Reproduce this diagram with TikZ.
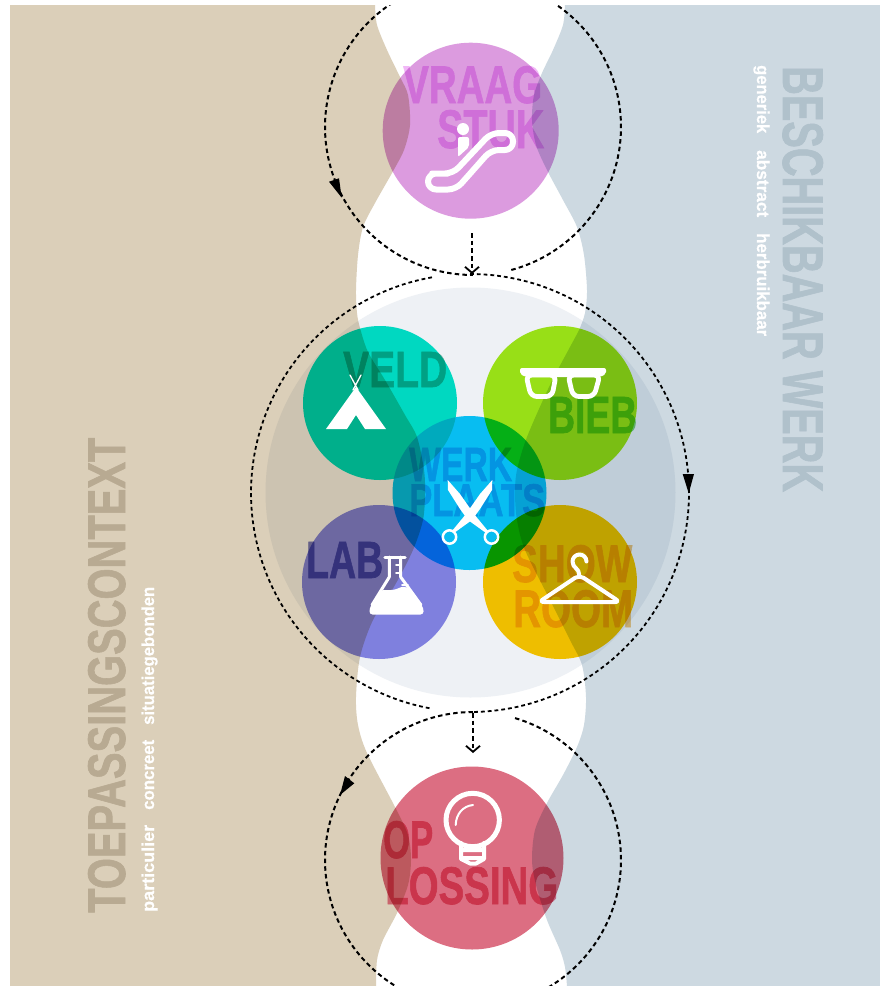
\documentclass[tikz,border=0pt]{standalone}
\usepackage{graphicx}
\usepackage{fontspec}
\setsansfont{Liberation Sans}[BoldFeatures={FakeBold=1.3}]
\newfontfamily\subfont{Liberation Sans}[BoldFeatures={FakeBold=0.6}]
\usetikzlibrary{arrows.meta}
\definecolor{tanbg}{HTML}{DBCFB9}
\definecolor{bluebg}{HTML}{CDD9E1}
\definecolor{bigc}{HTML}{EEF1F5}
\definecolor{cvraag}{HTML}{DC9BDF}
\definecolor{cveld}{HTML}{00E5C9}
\definecolor{cbieb}{HTML}{A3ED18}
\definecolor{cwerk}{HTML}{09C9FB}
\definecolor{clab}{HTML}{8988E8}
\definecolor{cshow}{HTML}{FFCA00}
\definecolor{copl}{HTML}{DC6E82}
\definecolor{tvraag}{HTML}{F1B8F7}
\definecolor{tveld}{HTML}{80BEAF}
\definecolor{tbieb}{HTML}{80D880}
\definecolor{twerk}{HTML}{80C8F0}
\definecolor{tlab}{HTML}{7D7DC3}
\definecolor{tshow}{HTML}{F5C880}
\definecolor{topl}{HTML}{EB7D96}
\definecolor{ttan}{HTML}{B8AA92}
\definecolor{tblue}{HTML}{B0C1CB}
\newcommand\fitt[3]{\resizebox{#1pt}{#2pt}{#3}}
\newcommand\subw[2]{\resizebox{#1pt}{12.5pt}{\subfont\bfseries\vphantom{l}#2}}
\tikzset{
  x=1pt,y=-1pt,
  bub/.style={circle,inner sep=0pt,draw=none,minimum size=#1},
  capt/.style={inner sep=0pt,anchor=base west,font=\sffamily\bfseries},
  subt/.style={capt,text=white},
  dashline/.style={draw=black,line width=2pt,dash pattern=on 4.5pt off 3.2pt},
  bigdash/.style={draw=black,line width=1.8pt,dash pattern=on 3.8pt off 3pt},
  head/.style={fill=black},
  ico/.style={draw=white,line join=round,line cap=round}
}
\begin{document}
\begin{tikzpicture}
\useasboundingbox (0,0) rectangle (880,986);
\fill[white] (0,0) rectangle (880,986);
% wavy background panels
\fill[tanbg] (10,5) -- plot[smooth,tension=0.5] coordinates {(375,5)(377,25)(387,50)(400,77)(408,95)(410,125)(404,150)(392,173)(375,203)(363,227)(358,255)(356,290)(357,313)(360,328)(368,352)(385,380)(405,415)(417,437)(424,470)(425,493)(423,520)(413,550)(395,585)(373,620)(360,657)(356,697)(358,725)(367,753)(395,807)(408,835)(411,860)(408,885)(397,913)(383,940)(377,960)(376,986)} -- (10,986) -- cycle;
\fill[bluebg] (880,5) -- plot[smooth,tension=0.5] coordinates {(565,5)(563,25)(553,50)(542,73)(534,95)(532,120)(536,145)(547,170)(563,200)(577,227)(584,255)(587,290)(585,313)(579,330)(570,347)(550,385)(527,437)(517,470)(515,493)(517,520)(525,550)(550,600)(570,640)(582,665)(586,697)(584,725)(577,747)(563,775)(547,803)(535,830)(532,860)(536,885)(547,920)(560,950)(565,967)(567,986)} -- (880,986) -- cycle;
\begin{scope}[blend mode=multiply]
\node[bub=410pt,fill=bigc] (big) at (470.5,492.5) {};
\node[bub=176pt,fill=cvraag] (vraag) at (470.7,130.7) {};
\node[bub=154pt,fill=cveld] (veld) at (380,403) {};
\node[bub=154pt,fill=cbieb] (bieb) at (560,403) {};
\node[bub=154pt,fill=cwerk] (werk) at (469.5,493) {};
\node[bub=154pt,fill=clab] (lab) at (379,582) {};
\node[bub=154pt,fill=cshow] (show) at (560,582) {};
\node[bub=183pt,fill=copl] (opl) at (472,858) {};
% labels: one group, so that the fill and outline of each glyph blend as one
\begin{scope}[transparency group]
\node[capt,text=tvraag] (t1) at (403,103) {\fitt{139}{37}{VRAAG}};
\node[capt,text=tvraag] (t2) at (437,148) {\fitt{107}{38}{STUK}};
\node[capt,text=tveld] (t3) at (343,387) {\fitt{104}{35}{VELD}};
\node[capt,text=tbieb] (t4) at (548,433) {\fitt{89}{36}{BIEB}};
\node[capt,text=twerk] (t5) at (409,481) {\fitt{103}{33}{WERK}};
\node[capt,text=twerk] (t6) at (409,516) {\fitt{136}{32}{PLAATS}};
\node[capt,text=tlab] (t7) at (306,578) {\fitt{77}{36}{LAB}};
\node[capt,text=tshow] (t8) at (512,582) {\fitt{120}{37}{SHOW}};
\node[capt,text=tshow] (t9) at (513,627) {\fitt{120}{37}{ROOM}};
\node[capt,text=topl] (t10) at (383,858) {\fitt{50}{37}{OP}};
\node[capt,text=topl] (t11) at (385,904) {\fitt{173}{37}{LOSSING}};
\end{scope}
\end{scope}
\node[capt,text=ttan,rotate=90] (t12) at (125,913) {\fitt{475}{37}{TOEPASSINGSCONTEXT}};
\node[capt,text=tblue,rotate=-90] (t13) at (783,66) {\fitt{426}{40}{BESCHIKBAAR WERK}};
% side words
\node[subt,rotate=90] (s1) at (154,912) {\subw{87}{particulier}};
\node[subt,rotate=90] (s2) at (154,810) {\subw{70}{concreet}};
\node[subt,rotate=90] (s3) at (154,725) {\subw{138}{situatiegebonden}};
\node[subt,rotate=-90] (s4) at (757,65) {\subw{68}{generiek}};
\node[subt,rotate=-90] (s5) at (757,150) {\subw{67}{abstract}};
\node[subt,rotate=-90] (s6) at (757,233) {\subw{103}{herbruikbaar}};
% escalator icon
\draw[ico,line width=6pt,rounded corners=8pt] (440,173.5) -- (453,173.5) -- (491,133) -- (513,133) -- (513,150) -- (491,150) -- (456,189.5) -- (428,189.5) -- (428,173.5) -- cycle;
\fill[white] (463,129) circle[radius=6pt];
\fill[white,rounded corners=2pt] (458,137) -- (469,137) -- (469,147) -- (458,157) -- cycle;
% tipi icon
\fill[white] (356,387) -- (386,429) -- (365,429) -- (356,415) -- (347,429) -- (326,429) -- cycle;
\draw[ico,line width=1.3pt] (350,375) -- (358,390) (361,375) -- (353,390);
% glasses icon
\draw[ico,line width=4.8pt,rounded corners=6pt] (526,375) -- (556,375) -- (552,396.5) -- (531,396.5) -- cycle;
\draw[ico,line width=4.8pt,rounded corners=6pt] (568,375) -- (600,375) -- (594,396.5) -- (573,396.5) -- cycle;
\fill[white,rounded corners=2pt] (520,368) -- (606,368) -- (606,374) -- (600,377) -- (526,377) -- (520,374) -- cycle;
% scissors icon
\fill[white] (447.7,480) -- (460,494) -- (474,514) -- (488,531) -- (486,533) -- (468,520) -- (460,509) -- (448,490) -- cycle;
\fill[white] (492.3,480) -- (480,494) -- (466,514) -- (452,531) -- (454,533) -- (472,520) -- (480,509) -- (492,490) -- cycle;
\draw[ico,line width=2.5pt] (449.5,537) circle[radius=6.7pt] (491.5,537) circle[radius=6.7pt];
% flask icon
\draw[ico,line width=3.5pt] (385,557.5) -- (405,557.5);
\draw[ico,line width=3pt] (389.3,557) -- (389.3,577) -- (372,605) (400.7,557) -- (400.7,577) -- (421,605);
\fill[white,rounded corners=3pt] (381,590) -- (394,590) -- (404,586) -- (411,590) -- (423.5,608) -- (423.5,614.5) -- (369.5,614.5) -- (369.5,608) -- cycle;
\draw[ico,line width=1.8pt] (396,565) -- (400,565) (396,573) -- (400,573) (402,585) -- (408,585);
% hanger icon
\draw[ico,line width=4pt] (586.5,561.5) arc[start angle=0,end angle=180,radius=7pt] .. controls (572.3,568) and (579.3,568) .. (579.3,575);
\draw[ico,line width=4pt,rounded corners=5pt] (579.3,575) -- (620,602) -- (539,602) -- cycle;
% bulb icon
\draw[ico,line width=5pt] (472.7,820) circle[radius=26.7pt];
\draw[ico,line width=2pt] (455.7,825) .. controls (456,814) and (463,806) .. (473,805);
\draw[ico,line width=4pt] (461,843) -- (461,859) -- (470,863.5) -- (476,863.5) -- (484,859) -- (484,843) (461,850) -- (484,850) (461,858) -- (484,858);
% dashed orbits
\begin{scope}
\clip (0,5) rectangle (880,986);
\draw[dashline] plot[domain=90:270,samples=90] ({473+148*cos(\x)},{127-148*sin(\x)});
\draw[dashline] plot[domain=-75:90,samples=90] ({473+148*cos(\x)},{127-148*sin(\x)});
\draw[bigdash] plot[domain=90:-90,samples=120] ({470+219*cos(\x)},{493-219*sin(\x)});
\draw[bigdash] plot[domain=100:260,samples=120] ({470+219*cos(\x)},{493-219*sin(\x)});
\draw[dashline] plot[domain=90:270,samples=90] ({473+148*cos(\x)},{860-148*sin(\x)});
\draw[dashline] plot[domain=73.5:-90,samples=90] ({473+148*cos(\x)},{860-148*sin(\x)});
\end{scope}
\fill[head] (329,181.7) -- (339,178.3) -- (341.7,197.7) -- cycle;
\fill[head] (682.7,474) -- (694,474) -- (688.7,493.3) -- cycle;
\fill[head] (340,795) -- (345,776) -- (354.3,783.3) -- cycle;
% connectors between the orbits
\coordinate (a1) at (472,233);
\coordinate (a2) at (472,274);
\coordinate (b1) at (473,713);
\coordinate (b2) at (473,753);
\draw[dashline,-{Straight Barb[length=6pt,width=14pt,line width=1.8pt]}] (a1) -- (a2);
\draw[dashline,-{Straight Barb[length=6pt,width=14pt,line width=1.8pt]}] (b1) -- (b2);
\end{tikzpicture}
\end{document}
